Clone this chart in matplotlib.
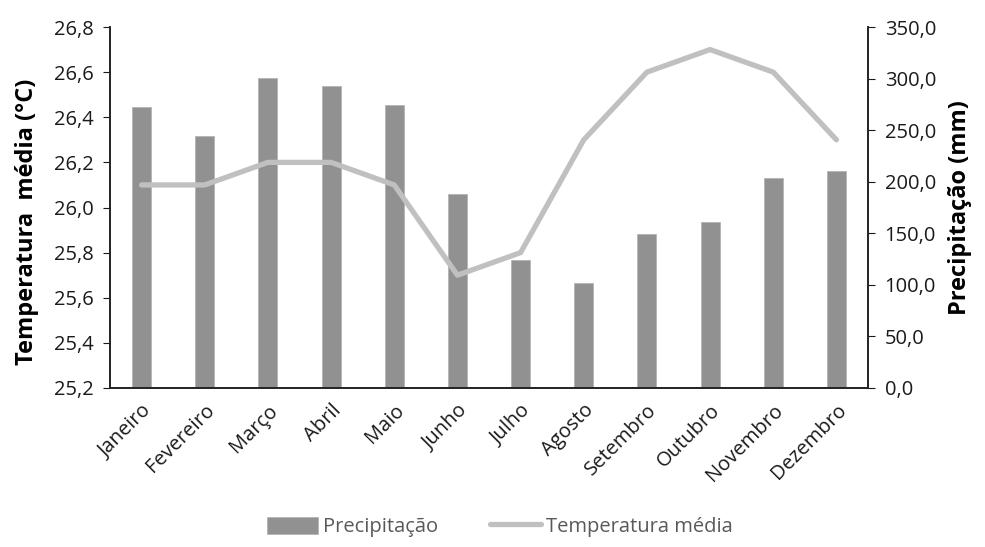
import matplotlib.pyplot as plt
import numpy as np

plt.rcParams['font.family'] = ['Open Sans', 'DejaVu Sans']

meses = ['Janeiro', 'Fevereiro', 'Março', 'Abril', 'Maio', 'Junho', 'Julho',
         'Agosto', 'Setembro', 'Outubro', 'Novembro', 'Dezembro']
precipitacao = [272.3, 244.3, 300.2, 292.8, 274.4, 188.1, 124.1, 101.5,
                149.0, 160.9, 203.3, 210.1]
temperatura = [26.1, 26.1, 26.2, 26.2, 26.1, 25.7, 25.8, 26.3, 26.6, 26.7,
               26.6, 26.3]

fig = plt.figure(figsize=(9.85, 5.47), dpi=100)
ax1 = fig.add_axes([110/985, 1-388/547, 758/985, 361/547])
ax2 = ax1.twinx()

x = np.arange(len(meses))

# barras de precipitacao no eixo da direita, linha de temperatura por cima
ax2.bar(x, precipitacao, width=0.3, color='#919191', edgecolor='#b4b4b4',
        linewidth=0.6, label='Precipitação', zorder=1)
ax1.plot(x, temperatura, color='#c0c0c0', lw=3.8, solid_capstyle='round',
         label='Temperatura média', zorder=3)
ax1.set_zorder(ax2.get_zorder() + 1)
ax1.patch.set_visible(False)

ax1.set_xlim(-0.5, len(meses) - 0.5)
ax1.set_ylim(25.2, 26.8)
ax1.set_yticks(np.arange(25.2, 26.81, 0.2))
ax1.set_yticklabels([f'{v:.1f}'.replace('.', ',') for v in np.arange(25.2, 26.81, 0.2)])
ax2.set_ylim(0, 350)
ax2.set_yticks(np.arange(0, 351, 50))
ax2.set_yticklabels([f'{v:.1f}'.replace('.', ',') for v in np.arange(0, 351, 50)])

ax1.set_xticks(x)
ax1.set_xticklabels(meses, rotation=45, ha='right', rotation_mode='anchor')
ax1.tick_params(axis='x', length=0, pad=9, labelsize=14.5, colors='#1a1a1a')
ax1.tick_params(axis='y', length=5, labelsize=14.5, colors='#1a1a1a', pad=7)
ax2.tick_params(axis='y', length=5, labelsize=14.5, colors='#1a1a1a', pad=7)

for ax in (ax1, ax2):
    ax.spines['top'].set_visible(False)
    for s in ('left', 'right', 'bottom'):
        ax.spines[s].set_color('#222222')
        ax.spines[s].set_linewidth(1.2)

ax1.set_ylabel('Temperatura  média (°C)', fontsize=17, fontweight='bold')
ax2.set_ylabel('Precipitação (mm)', fontsize=17, fontweight='bold')
ax1.yaxis.set_label_coords(-0.094, 0.46)
ax2.yaxis.set_label_coords(1.106, 0.5)

h1, l1 = ax2.get_legend_handles_labels()
h2, l2 = ax1.get_legend_handles_labels()
fig.legend(h1 + h2, l1 + l2, loc='center', bbox_to_anchor=(500/985, 1-527/547),
           ncol=2, frameon=False, fontsize=14.5, labelcolor='#595959',
           handlelength=2.5, handleheight=0.9, handletextpad=0.25, columnspacing=2.6)

fig.savefig('out.png', dpi=100)
